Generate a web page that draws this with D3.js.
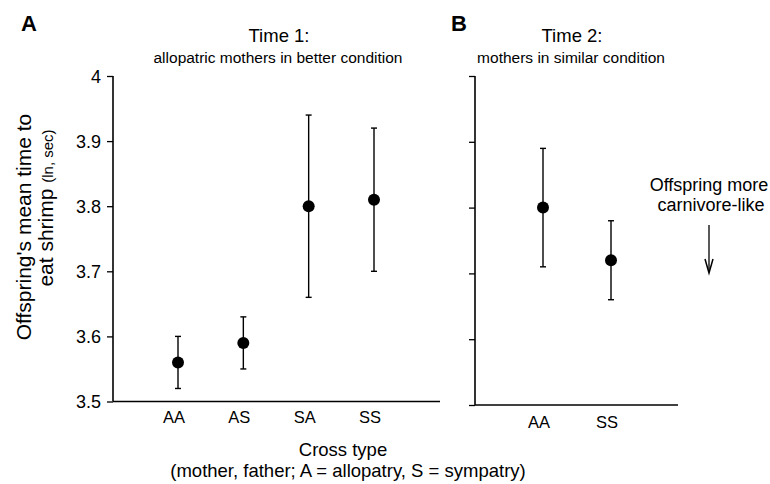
<!DOCTYPE html>
<html>
<head>
<meta charset="utf-8">
<script src="https://cdn.jsdelivr.net/npm/d3@7"></script>
<style>
  body { margin: 0; background: #fff; }
  text { font-family: "Liberation Sans", Arial, Helvetica, sans-serif; fill: #000; }
</style>
</head>
<body>
<script>
var w = 770;
var h = 484;

// Time 1 data
var catsA = ["AA", "AS", "SA", "SS"];
var meanA = [3.56, 3.59, 3.80, 3.81];
var lowA  = [3.52, 3.55, 3.66, 3.70];
var highA = [3.60, 3.63, 3.94, 3.92];

// Time 2 data
var catsB = ["AA", "SS"];
var meanB = [3.80, 3.72];
var lowB  = [3.71, 3.66];
var highB = [3.89, 3.78];

var yTicks = [3.5, 3.6, 3.7, 3.8, 3.9, 4.0];
var yTickLabels = ["3.5", "3.6", "3.7", "3.8", "3.9", "4"];

var svg = d3.select("body")
            .append("svg")
            .attr("width", w)
            .attr("height", h);

function drawPanel(opts) {
    var x = d3.scalePoint()
              .domain(opts.cats)
              .range(opts.xr);
    var y = d3.scaleLinear()
              .domain([3.5, 4.0])
              .range(opts.yr);

    var g = svg.append("g");

    // y axis ticks (left pointing)
    var yAxis = d3.axisLeft(y)
                  .tickValues(yTicks)
                  .tickSize(6)
                  .tickFormat(function(d, i) { return opts.labels ? yTickLabels[i] : ""; });
    var ya = g.append("g")
              .attr("transform", "translate(" + opts.x0 + ",0)")
              .call(yAxis);
    ya.select(".domain").remove();
    ya.selectAll("line").attr("stroke", "#000").attr("stroke-width", 1.3);
    ya.selectAll("text")
      .attr("font-size", 18)
      .attr("x", -12)
      .attr("dy", "0.35em")
      .style("font-family", "Liberation Sans, Arial, sans-serif");

    g.append("line")
     .attr("x1", opts.x0).attr("x2", opts.x0)
     .attr("y1", y(4.0)).attr("y2", y(3.5))
     .attr("stroke", "#000").attr("stroke-width", 1.6);
    g.append("line")
     .attr("x1", opts.x0).attr("x2", opts.x1)
     .attr("y1", y(3.5)).attr("y2", y(3.5))
     .attr("stroke", "#000").attr("stroke-width", 1.6);

    // category labels
    g.selectAll(".cat")
     .data(opts.cats)
     .enter().append("text")
     .attr("x", function(d) { return x(d) - 4; })
     .attr("y", y(3.5) + opts.catDy)
     .attr("text-anchor", "middle")
     .attr("font-size", 16.5)
     .text(function(d) { return d; });

    // error bars
    var bars = g.selectAll(".err")
                .data(opts.cats)
                .enter().append("g");
    bars.append("line")
        .attr("x1", function(d) { return x(d); })
        .attr("x2", function(d) { return x(d); })
        .attr("y1", function(d, i) { return y(opts.low[i]); })
        .attr("y2", function(d, i) { return y(opts.high[i]); })
        .attr("stroke", "#000").attr("stroke-width", 1.4);
    bars.append("line")
        .attr("x1", function(d) { return x(d) - 3; })
        .attr("x2", function(d) { return x(d) + 3; })
        .attr("y1", function(d, i) { return y(opts.low[i]); })
        .attr("y2", function(d, i) { return y(opts.low[i]); })
        .attr("stroke", "#000").attr("stroke-width", 1.4);
    bars.append("line")
        .attr("x1", function(d) { return x(d) - 3; })
        .attr("x2", function(d) { return x(d) + 3; })
        .attr("y1", function(d, i) { return y(opts.high[i]); })
        .attr("y2", function(d, i) { return y(opts.high[i]); })
        .attr("stroke", "#000").attr("stroke-width", 1.4);

    // points
    g.selectAll("circle")
     .data(opts.cats)
     .enter().append("circle")
     .attr("cx", function(d) { return x(d); })
     .attr("cy", function(d, i) { return y(opts.mean[i]); })
     .attr("r", 6)
     .attr("fill", "#000");
}

drawPanel({cats: catsA, mean: meanA, low: lowA, high: highA,
           x0: 113, x1: 440, xr: [178, 374], yr: [401.5, 76], labels: true, catDy: 21.5});
drawPanel({cats: catsB, mean: meanB, low: lowB, high: highB,
           x0: 475, x1: 678, xr: [543, 611], yr: [405, 76], labels: false, catDy: 23});

// panel letters
svg.append("text").attr("x", 21).attr("y", 31).attr("font-size", 22)
   .attr("font-weight", "bold").text("A");
svg.append("text").attr("x", 451).attr("y", 31).attr("font-size", 22)
   .attr("font-weight", "bold").text("B");

// titles
svg.append("text").attr("x", 279).attr("y", 42).attr("font-size", 18.5)
   .attr("text-anchor", "middle").text("Time 1:");
svg.append("text").attr("x", 278).attr("y", 63).attr("font-size", 15.5)
   .attr("text-anchor", "middle").text("allopatric mothers in better condition");
svg.append("text").attr("x", 572).attr("y", 42).attr("font-size", 18.5)
   .attr("text-anchor", "middle").text("Time 2:");
svg.append("text").attr("x", 571).attr("y", 63).attr("font-size", 15.5)
   .attr("text-anchor", "middle").text("mothers in similar condition");

// y label
svg.append("text")
   .attr("transform", "translate(31,227) rotate(-90)")
   .attr("font-size", 21)
   .attr("text-anchor", "middle")
   .text("Offspring's mean time to");
var l2 = svg.append("text")
   .attr("transform", "translate(53,208) rotate(-90)")
   .attr("font-size", 21)
   .attr("text-anchor", "middle");
l2.append("tspan").text("eat shrimp ");
l2.append("tspan").attr("font-size", 15).text("(ln, sec)");

// x label
svg.append("text").attr("x", 343).attr("y", 456).attr("font-size", 18.5)
   .attr("text-anchor", "middle").text("Cross type");
svg.append("text").attr("x", 348).attr("y", 477).attr("font-size", 18.5)
   .attr("text-anchor", "middle").text("(mother, father; A = allopatry, S = sympatry)");

// annotation
svg.append("text").attr("x", 709).attr("y", 191).attr("font-size", 18)
   .attr("text-anchor", "middle").text("Offspring more");
svg.append("text").attr("x", 711).attr("y", 211).attr("font-size", 18)
   .attr("text-anchor", "middle").text("carnivore-like");
svg.append("line").attr("x1", 709).attr("x2", 709).attr("y1", 225).attr("y2", 272)
   .attr("stroke", "#000").attr("stroke-width", 1.3);
svg.append("path").attr("d", "M705,259 L709,273 L713,259")
   .attr("fill", "none").attr("stroke", "#000").attr("stroke-width", 1.5);
</script>
</body>
</html>
